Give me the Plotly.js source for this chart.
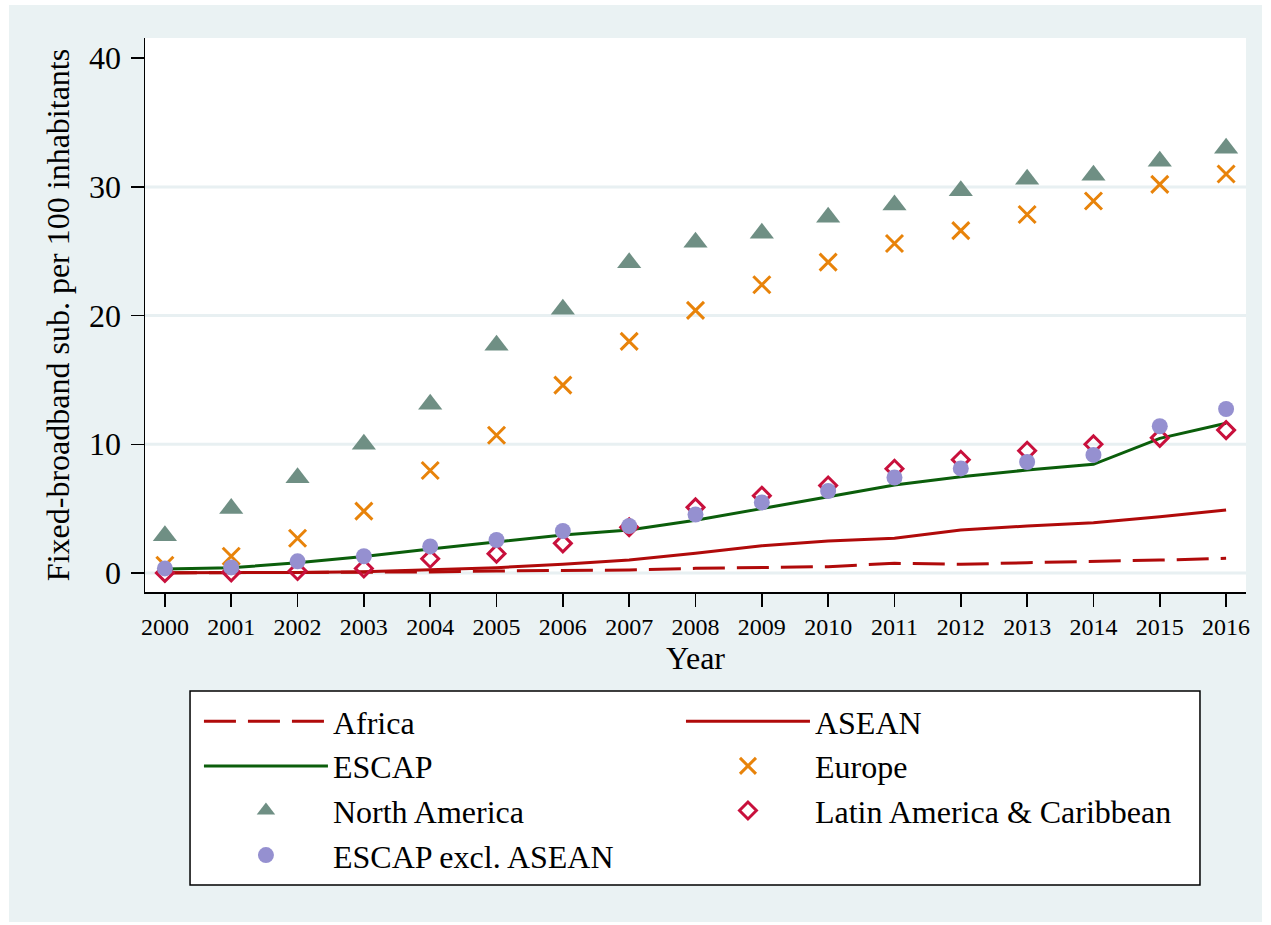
<!DOCTYPE html>
<html>
<head>
<meta charset="utf-8">
<script src="https://cdn.plot.ly/plotly-3.0.1.min.js"></script>
<style>
  html, body { margin: 0; padding: 0; background: #ffffff; }
  #chart { position: absolute; left: 9px; top: 5px; width: 1253px; height: 917px; }
</style>
</head>
<body>
<div id="chart"></div>
<script>
const years = [2000,2001,2002,2003,2004,2005,2006,2007,2008,2009,2010,2011,2012,2013,2014,2015,2016];
const yearLabels = years.map(String);

const africa   = [0.0,0.02,0.03,0.05,0.08,0.15,0.2,0.23,0.36,0.44,0.49,0.75,0.67,0.8,0.88,1.0,1.14];
const asean    = [0.02,0.02,0.03,0.1,0.23,0.41,0.67,1.0,1.53,2.12,2.49,2.7,3.34,3.65,3.9,4.37,4.9];
const escap    = [0.3,0.4,0.8,1.27,1.86,2.43,2.95,3.34,4.1,5.0,5.93,6.83,7.48,8.0,8.44,10.46,11.63];
const europe   = [0.6,1.3,2.7,4.8,7.96,10.7,14.6,18.0,20.4,22.4,24.15,25.6,26.6,27.85,28.9,30.2,31.0];
const northAm  = [2.9,5.0,7.4,10.0,13.1,17.7,20.5,24.1,25.7,26.4,27.65,28.6,29.7,30.6,30.9,32.0,33.0];
const latAm    = [0.0,0.05,0.15,0.35,1.1,1.5,2.3,3.55,5.1,6.0,6.8,8.1,8.8,9.5,10.0,10.5,11.1];
const escapExA = [0.35,0.43,0.9,1.3,2.06,2.56,3.26,3.65,4.54,5.48,6.37,7.42,8.12,8.62,9.17,11.4,12.74];

const yTickVals = [0,10,20,30,40];
const gridVals = [0,10,20,30];

const FONT = "Liberation Serif, 'Times New Roman', Times, serif";
const RED = '#b00a0a';

const traces = [
  {x: years, y: africa, name: 'Africa', legend: 'legend', mode: 'lines', line: {color: RED, width: 3, dash: '32px,12px'}},
  {x: years, y: asean, name: 'ASEAN', legend: 'legend2', mode: 'lines', line: {color: RED, width: 3}},
  {x: years, y: escap, name: 'ESCAP', legend: 'legend', mode: 'lines', line: {color: '#0b5e0b', width: 3}},
  {x: years, y: europe, name: 'Europe', legend: 'legend2', mode: 'markers', marker: {symbol: 'x-thin-open', size: 17, color: '#e8830a', line: {color: '#e8830a', width: 3}}},
  {x: years, y: northAm, name: 'North America', legend: 'legend', mode: 'markers', marker: {symbol: 'triangle-up', size: 21, color: '#6f8f84'}},
  {x: years, y: latAm, name: 'Latin America & Caribbean', legend: 'legend2', mode: 'markers', marker: {symbol: 'diamond-open', size: 13, color: '#c8103c', line: {color: '#c8103c', width: 3}}},
  {x: years, y: escapExA, name: 'ESCAP excl. ASEAN', legend: 'legend', mode: 'markers', marker: {symbol: 'circle', size: 16, color: '#9590d0'}}
];

const shapes = gridVals.map(v => ({
  type: 'line', xref: 'paper', yref: 'y', x0: 0, x1: 1, y0: v, y1: v,
  line: {color: '#e8f0f2', width: 3}, layer: 'below'
}));
shapes.push({
  type: 'rect', xref: 'paper', yref: 'paper',
  x0: 0.0409, x1: 0.9582, y0: -0.1787, y1: -0.5289,
  fillcolor: '#ffffff', line: {color: '#000000', width: 1.5}, layer: 'below'
});

const legendCommon = {
  orientation: 'v',
  xanchor: 'left', yanchor: 'top',
  y: -0.1841,
  bgcolor: 'rgba(0,0,0,0)', borderwidth: 0,
  itemwidth: 124,
  font: {family: FONT, size: 32},
  itemclick: false, itemdoubleclick: false,
  traceorder: 'normal'
};

const layout = {
  width: 1253, height: 917,
  paper_bgcolor: '#eaf2f3',
  plot_bgcolor: '#ffffff',
  margin: {l: 136, r: 16, t: 33, b: 330},
  font: {family: FONT, color: '#000000'},
  showlegend: true,
  xaxis: {
    range: [1999.7, 2016.3],
    tickmode: 'array', tickvals: years, ticktext: yearLabels,
    ticks: 'outside', ticklen: 13, tickwidth: 1.5, tickcolor: '#000',
    showline: true, linecolor: '#000', linewidth: 1.5,
    showgrid: false, zeroline: false,
    tickfont: {family: FONT, size: 24},
    title: {text: 'Year', font: {family: FONT, size: 32}, standoff: 0},
    automargin: false
  },
  yaxis: {
    range: [-1.48, 41.57],
    tickmode: 'array', tickvals: yTickVals, ticktext: yTickVals.map(String),
    ticks: 'outside', ticklen: 13, tickwidth: 1.5, tickcolor: '#000',
    ticklabelstandoff: 3,
    showline: true, linecolor: '#000', linewidth: 1.5,
    showgrid: false, zeroline: false,
    tickfont: {family: FONT, size: 32},
    title: {text: 'Fixed-broadband sub. per 100 inhabitants', font: {family: FONT, size: 32}, standoff: 10},
    automargin: false
  },
  shapes: shapes,
  legend: Object.assign({}, legendCommon, {x: 0.049}),
  legend2: Object.assign({}, legendCommon, {x: 0.4868})
};

Plotly.newPlot('chart', traces, layout, {displayModeBar: false, staticPlot: true});
</script>
</body>
</html>
